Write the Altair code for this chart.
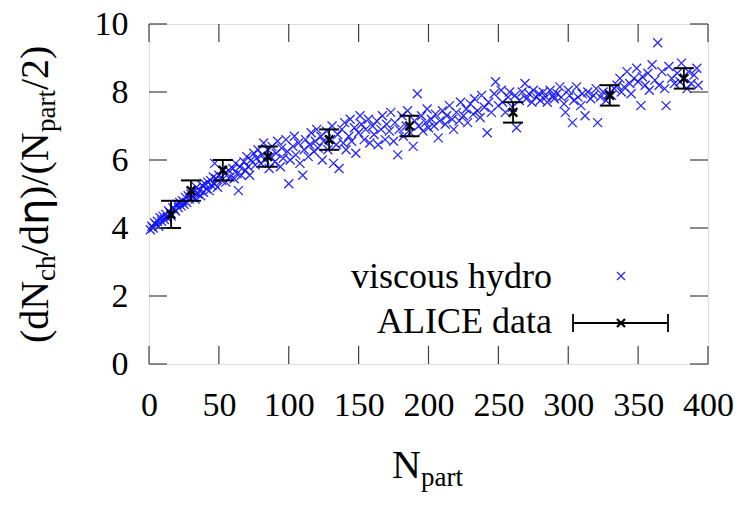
import altair as alt
import pandas as pd

# ---------------- data ----------------
hydro_npart = [
    1, 2, 3, 4, 5, 6, 7, 8, 9, 10, 11, 12, 13, 14, 15, 16, 17, 18, 19, 20, 21, 22, 23, 24, 25,
    26, 27, 28, 29, 30, 31, 32, 33, 34, 35, 36, 37, 38, 39, 40, 41, 42, 43, 44, 45, 46, 47, 47, 48, 49, 50,
    52, 54, 55, 57, 58, 60, 61, 62, 63, 64, 65, 66, 68, 69, 70, 71, 72, 73, 75, 76, 77, 78, 80, 81, 82, 83,
    85, 86, 87, 88, 90, 91, 92, 94, 95, 96, 98, 99, 100, 101,
    103, 104, 105, 107, 108, 110, 111, 112, 114, 115, 116, 118, 119, 120, 121, 123, 124, 125, 127, 128,
    130, 131, 132, 134, 135, 136, 138, 139, 140, 141, 143, 144, 145, 147, 148, 150, 151, 152,
    154, 155, 157, 158, 160, 161, 163, 164, 166, 167, 169, 170, 172, 173, 175, 176, 178, 179, 181, 182,
    184, 185, 187, 189, 190, 192, 193, 195, 196, 198, 199, 200,
    202, 204, 205, 207, 208, 210, 212, 213, 215, 217, 218, 220, 222, 223, 225, 227, 228, 230, 232, 233,
    235, 237, 238, 240, 242, 243, 245, 247, 248, 250,
    252, 253, 255, 257, 258, 260, 262, 263, 265, 267, 269, 270, 272, 274, 275, 277, 279, 280, 282, 284,
    285, 287, 289, 290, 292, 294, 295, 297, 298, 300,
    301, 303, 304, 306, 307, 309, 310, 312, 314, 316, 318, 320, 321, 323, 325, 327, 329, 331, 333, 335,
    337, 338, 340, 342, 344, 345, 347, 349, 350,
    352, 353, 355, 357, 358, 360, 362, 364, 365, 367, 369, 370, 372, 374, 376, 378, 380, 381, 383, 385,
    386, 388, 390, 392, 393,
]
hydro_ratio = [
    3.95, 4.05, 4.0, 4.15, 4.1, 4.2, 4.05, 4.3, 4.2, 4.35, 4.25, 4.4, 4.3, 4.5, 4.45, 4.35, 4.6, 4.55, 4.5, 4.7, 4.6, 4.75, 4.65, 4.8, 4.7,
    4.9, 4.75, 4.95, 4.85, 5.0, 4.9, 5.05, 4.85, 5.2, 5.0, 5.1, 4.95, 5.25, 5.05, 5.3, 5.15, 5.35, 5.1, 5.4, 5.25, 5.5, 5.3, 5.9, 5.45, 5.2, 5.55,
    5.4, 5.6, 5.35, 5.7, 5.5, 5.75, 5.45, 5.9, 5.6, 5.1, 5.8, 5.55, 5.95, 5.7, 6.1, 5.8, 5.55, 6.0, 6.2, 5.85, 6.05, 6.3, 5.9, 6.15, 6.5, 6.0,
    6.3, 5.75, 6.1, 6.4, 5.95, 6.2, 6.55, 5.8, 6.35, 6.05, 6.6, 6.25, 5.3, 6.0,
    6.4, 6.7, 6.15, 6.5, 5.9, 5.55, 6.3, 6.6, 6.1, 6.45, 6.8, 6.25, 6.55, 6.9, 6.35, 6.7, 6.0, 6.55, 6.85, 6.3,
    6.6, 7.0, 5.9, 6.45, 6.75, 5.75, 6.9, 6.5, 7.1, 6.3, 6.7, 7.2, 6.55, 6.95, 6.2, 6.8, 7.3, 7.05,
    6.6, 6.9, 7.2, 6.5, 7.0, 6.75, 7.15, 6.45, 6.9, 7.3, 6.6, 7.05, 6.85, 7.4, 6.55, 7.1, 6.15, 6.9, 7.3, 6.7,
    7.0, 7.45, 6.8, 6.4, 7.15, 7.95, 7.0, 7.3, 6.85, 7.1, 7.5, 6.95,
    7.2, 7.0, 7.35, 6.65, 7.15, 7.45, 7.05, 7.3, 7.6, 7.2, 6.9, 7.4, 7.15, 7.7, 7.3, 7.5, 7.1, 7.65, 7.35, 7.8,
    7.45, 7.25, 7.9, 7.55, 6.8, 7.7, 7.4, 7.95, 8.3, 7.6,
    8.05, 7.7, 7.4, 7.85, 8.0, 7.55, 7.9, 6.95, 7.75, 8.0, 8.25, 7.8, 7.95, 7.7, 8.05, 7.85, 7.95, 7.75, 8.0, 7.85,
    7.7, 8.05, 7.9, 7.8, 7.95, 8.15, 7.85, 7.65, 7.4, 8.05,
    7.9, 7.1, 7.75, 8.15, 7.85, 7.6, 7.95, 7.3, 8.0, 7.8, 7.9, 8.1, 7.1, 7.85, 8.0, 7.75, 7.95, 7.9, 8.1, 8.2,
    8.4, 8.0, 8.15, 8.6, 8.25, 7.95, 8.4, 8.7, 8.3,
    7.6, 8.45, 8.2, 8.55, 8.05, 8.8, 8.35, 9.45, 8.2, 8.6, 8.1, 7.6, 8.75, 8.4, 8.25, 8.55, 8.3, 8.85, 8.4, 8.1,
    8.6, 8.25, 8.5, 8.7, 8.2,
]

alice_npart = [15.8, 30.0, 52.8, 85.0, 128.9, 186.4, 260.5, 329.7, 382.7]
alice_ratio = [4.4, 5.1, 5.7, 6.1, 6.6, 7.0, 7.4, 7.9, 8.4]
alice_err = [0.4, 0.3, 0.3, 0.3, 0.3, 0.3, 0.3, 0.3, 0.3]

x_ticks = [0, 50, 100, 150, 200, 250, 300, 350, 400]
y_ticks = [0, 2, 4, 6, 8, 10]
legend_labels = ["viscous hydro", "ALICE data"]

# --------------- layout ---------------
W, H = 559, 340
SERIF = "Liberation Serif"
BLUE = "#1010ff"
FRAME = "#404040"
TICK = 18
XPATH = "M-1,-1L1,1M-1,1L1,-1"

n = min(len(hydro_npart), len(hydro_ratio))
hydro = pd.DataFrame({"npart": hydro_npart[:n], "ratio": hydro_ratio[:n]})
alice = pd.DataFrame({"npart": alice_npart, "ratio": alice_ratio, "err": alice_err})
alice["lo"] = alice["ratio"] - alice["err"]
alice["hi"] = alice["ratio"] + alice["err"]
xt = pd.DataFrame({"v": x_ticks})
yt = pd.DataFrame({"v": y_ticks})
one = pd.DataFrame({"d": [0]})

xs = alt.Scale(domain=[0, 400], nice=False, zero=False)
ys = alt.Scale(domain=[0, 10], nice=False, zero=False)

x_axis = alt.Axis(values=x_ticks, ticks=False, tickSize=0, domain=False, grid=False,
                  labelFont=SERIF, labelFontSize=34, labelColor="black", labelPadding=24,
                  labelFlush=False, labelOverlap=False, title=None)
y_axis = alt.Axis(values=y_ticks, ticks=False, tickSize=0, domain=False, grid=False,
                  labelFont=SERIF, labelFontSize=34, labelColor="black", labelPadding=21,
                  labelOverlap=False, title=None)


def X(field):
    return alt.X(field, scale=xs, axis=x_axis)


def Y(field):
    return alt.Y(field, scale=ys, axis=y_axis)


scatter = alt.Chart(hydro).mark_point(shape=XPATH, filled=False, size=81, strokeWidth=1.3,
                                      color=BLUE, opacity=0.9).encode(
    x=X("npart:Q"), y=Y("ratio:Q"))

err_rule = alt.Chart(alice).mark_rule(color="black", strokeWidth=1.8).encode(
    x=X("npart:Q"), y=Y("lo:Q"), y2="hi:Q")
cap_lo = alt.Chart(alice).mark_tick(orient="horizontal", size=20, thickness=2, color="black",
                                    opacity=1).encode(x=X("npart:Q"), y=Y("lo:Q"))
cap_hi = alt.Chart(alice).mark_tick(orient="horizontal", size=20, thickness=2, color="black",
                                    opacity=1).encode(x=X("npart:Q"), y=Y("hi:Q"))
alice_pt = alt.Chart(alice).mark_point(shape=XPATH, filled=False, size=72, strokeWidth=2.4,
                                       color="black", opacity=1).encode(
    x=X("npart:Q"), y=Y("ratio:Q"))

# inward tick marks on all four sides
tick_style = dict(color=FRAME, strokeWidth=1.2)
xt_bot = alt.Chart(xt).mark_rule(**tick_style).encode(
    x=X("v:Q"), y=alt.value(H), y2=alt.value(H - TICK))
xt_top = alt.Chart(xt).mark_rule(**tick_style).encode(
    x=X("v:Q"), y=alt.value(0), y2=alt.value(TICK))
yt_left = alt.Chart(yt).mark_rule(**tick_style).encode(
    y=Y("v:Q"), x=alt.value(0), x2=alt.value(TICK))
yt_right = alt.Chart(yt).mark_rule(**tick_style).encode(
    y=Y("v:Q"), x=alt.value(W), x2=alt.value(W - TICK))


def txt(s, x, y, size, align="left", angle=0, font=SERIF, baseline="alphabetic"):
    return alt.Chart(pd.DataFrame({"t": [s]})).mark_text(
        font=font, fontSize=size, align=align, baseline=baseline, angle=angle, color="black"
    ).encode(text="t:N", x=alt.value(x), y=alt.value(y))


# legend (inside plot)
leg_txt1 = txt(legend_labels[0], 403, 253, 36, align="right", baseline="middle")
leg_txt2 = txt(legend_labels[1], 403, 298, 36, align="right", baseline="middle")
leg_pt1 = alt.Chart(one).mark_point(shape=XPATH, filled=False, size=64, strokeWidth=1.3, color=BLUE,
                                    opacity=0.9).encode(x=alt.value(472), y=alt.value(252))
leg_line = alt.Chart(one).mark_rule(color="black", strokeWidth=1.8).encode(
    x=alt.value(424), x2=alt.value(519), y=alt.value(299))
leg_capL = alt.Chart(one).mark_rule(color="black", strokeWidth=1.8).encode(
    x=alt.value(424), y=alt.value(290), y2=alt.value(308))
leg_capR = alt.Chart(one).mark_rule(color="black", strokeWidth=1.8).encode(
    x=alt.value(519), y=alt.value(290), y2=alt.value(308))
leg_pt2 = alt.Chart(one).mark_point(shape=XPATH, filled=False, size=64, strokeWidth=2.2, color="black",
                                    opacity=1).encode(x=alt.value(472), y=alt.value(299))

# axis titles with subscripts
L, S = 40, 27
bx, sx = -101, -94          # baselines (relative to plot left) for big / subscript text
ytitle = [
    txt("(dN", bx, 319, L, angle=270),
    txt("ch", sx, 257, S, angle=270),
    txt("/d", bx, 232, L, angle=270),
    txt("η", bx, 201, 42, angle=270, font="DejaVu Sans"),
    txt(")/(N", bx, 175, L, angle=270),
    txt("part", sx, 108, S, angle=270),
    txt("/2)", bx, 66, L, angle=270),
]
xtitle = [
    txt("N", 243, 454, L),
    txt("part", 272, 462, S),
]

chart = alt.layer(
    scatter, err_rule, cap_lo, cap_hi, alice_pt,
    xt_bot, xt_top, yt_left, yt_right,
    leg_txt1, leg_txt2, leg_pt1, leg_line, leg_capL, leg_capR, leg_pt2,
    *ytitle, *xtitle,
).properties(
    width=W, height=H,
    autosize=alt.AutoSizeParams(type="none"),
    padding={"left": 149, "top": 24, "right": 37, "bottom": 145},
).configure_view(stroke=FRAME, strokeWidth=1.5).configure(background="white")

chart.save("out.html", embed_options={"renderer": "svg", "actions": False})
